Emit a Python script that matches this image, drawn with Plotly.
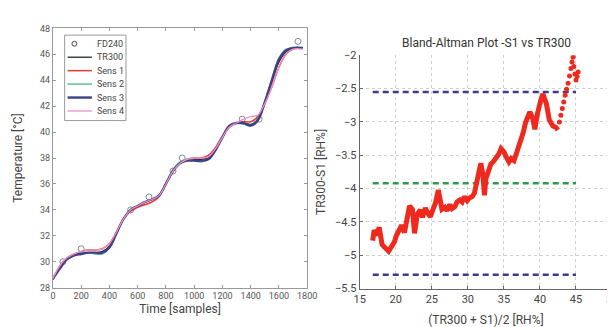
import plotly.graph_objects as go

# ---------------- Left panel data ----------------
time = [0, 50, 100, 150, 200, 250, 300, 350, 400, 450, 500, 550, 600, 650, 700, 750, 800, 850,
        900, 950, 1000, 1050, 1100, 1150, 1200, 1250, 1300, 1350, 1400, 1450, 1500, 1550, 1600,
        1650, 1700, 1770]
tr300 = [28.7, 29.6, 30.2, 30.5, 30.7, 30.7, 30.7, 30.8, 31.2, 32.2, 33.3, 34.0, 34.3, 34.6, 34.8,
         35.1, 36.0, 37.0, 37.6, 37.9, 37.9, 37.9, 38.0, 38.6, 39.6, 40.4, 40.7, 40.7, 40.6, 41.0,
         42.3, 43.9, 45.4, 46.2, 46.5, 46.5]
sens1 = [28.6, 29.7, 30.3, 30.6, 30.8, 30.9, 30.9, 31.0, 31.4, 32.3, 33.3, 33.9, 34.2, 34.4, 34.6,
         35.0, 36.0, 37.0, 37.6, 37.9, 38.0, 38.0, 38.2, 38.8, 39.7, 40.4, 40.7, 40.8, 40.8, 41.2,
         42.2, 43.5, 45.0, 46.0, 46.4, 46.5]
sens2 = [28.7, 29.6, 30.2, 30.5, 30.7, 30.7, 30.6, 30.6, 31.1, 32.2, 33.3, 34.0, 34.3, 34.6, 34.8,
         35.1, 36.1, 37.1, 37.7, 37.9, 37.8, 37.7, 37.9, 38.6, 39.7, 40.5, 40.7, 40.6, 40.5, 41.0,
         42.4, 44.1, 45.7, 46.4, 46.5, 46.5]
sens3 = [28.7, 29.5, 30.2, 30.5, 30.6, 30.7, 30.7, 30.7, 31.1, 32.2, 33.3, 34.0, 34.3, 34.6, 34.8,
         35.1, 36.0, 37.0, 37.6, 37.8, 37.8, 37.8, 37.9, 38.6, 39.6, 40.5, 40.7, 40.7, 40.5, 40.9,
         42.3, 44.0, 45.6, 46.3, 46.5, 46.5]
sens4 = [28.7, 29.7, 30.3, 30.6, 30.8, 30.9, 30.9, 31.0, 31.4, 32.3, 33.3, 34.0, 34.3, 34.6, 34.8,
         35.1, 36.0, 37.0, 37.6, 37.9, 38.0, 38.0, 38.1, 38.7, 39.6, 40.4, 40.7, 41.0, 41.2, 41.3,
         42.2, 43.5, 45.0, 46.0, 46.4, 46.4]
fd240_t = [70, 200, 550, 680, 850, 915, 1340, 1460, 1735]
fd240_v = [30, 31, 34, 35, 37, 38, 41, 41, 47]
legend_names = ["FD240", "TR300", "Sens 1", "Sens 2", "Sens 3", "Sens 4"]

# ---------------- Right panel data ----------------
ba_mean = [16.8, 17.0, 17.3, 17.7, 18.1, 18.6, 19.0, 19.4, 19.8, 20.1, 20.5, 20.8, 21.2, 21.5,
           21.9, 22.3, 22.6, 23.0, 23.4, 23.7, 24.1, 24.5, 24.8, 25.2, 25.5, 25.9, 26.4, 26.8,
           27.1, 27.5, 27.8, 28.2, 28.5, 28.9, 29.2, 29.5, 29.9, 30.2, 30.6, 30.9, 31.4, 31.8,
           32.1, 32.3, 32.5, 32.7, 33.2, 33.5, 33.9, 34.3, 34.6, 35.0, 35.3, 35.7, 36.0, 36.4,
           36.8, 37.3, 37.7, 38.0, 38.3, 38.6, 39.0, 39.3, 39.6, 39.8, 40.1, 40.4, 40.7, 40.9,
           41.3, 41.8, 42.2, 42.5]
ba_diff = [-4.78, -4.62, -4.70, -4.58, -4.84, -4.90, -4.94, -4.87, -4.80, -4.70, -4.62, -4.55,
           -4.66, -4.45, -4.26, -4.31, -4.67, -4.38, -4.32, -4.43, -4.29, -4.38, -4.42, -4.30,
           -4.22, -4.02, -4.31, -4.28, -4.33, -4.24, -4.30, -4.27, -4.20, -4.17, -4.20, -4.12,
           -4.18, -4.14, -4.12, -4.07, -3.83, -3.62, -3.80, -4.10, -3.85, -3.78, -3.63, -3.60,
           -3.54, -3.48, -3.40, -3.45, -3.52, -3.60, -3.55, -3.58, -3.45, -3.30, -3.15, -3.01,
           -2.95, -2.85, -2.95, -3.11, -2.90, -2.77, -2.68, -2.58, -2.65, -2.73, -2.97, -3.06,
           -3.08, -3.12]
ba_mean_tail = [42.7, 42.9, 43.1, 43.3, 43.5, 43.7, 43.9, 44.1, 44.3, 44.45, 44.6, 44.7, 44.85,
                45.0, 45.15, 45.3]
ba_diff_tail = [-3.00, -2.90, -2.80, -2.70, -2.60, -2.51, -2.42, -2.31, -2.20, -2.10, -2.03,
                -2.17, -2.28, -2.37, -2.32, -2.25]
loa_x = [16.8, 45.0]
upper_loa = -2.55
mean_diff = -3.92
lower_loa = -5.29

FONT = "Liberation Sans Narrow, Roboto, Liberation Sans, Arial, sans-serif"
W, H = 615, 327

colors = {"FD240": "#888888", "TR300": "#1e2a28", "Sens 1": "#e8392e", "Sens 2": "#5cbf9f",
          "Sens 3": "#3d3f88", "Sens 4": "#f28dbf"}
widths = {"TR300": 1.3, "Sens 1": 1.5, "Sens 2": 1.5, "Sens 3": 2.4, "Sens 4": 1.3}

fig = go.Figure()

# Left panel traces
fig.add_trace(go.Scatter(x=fd240_t, y=fd240_v, mode="markers", name="FD240",
                         marker=dict(symbol="circle-open", size=6, color=colors["FD240"], line=dict(width=1)),
                         xaxis="x", yaxis="y"))
for name, vals in [("TR300", tr300), ("Sens 1", sens1), ("Sens 2", sens2), ("Sens 3", sens3), ("Sens 4", sens4)]:
    fig.add_trace(go.Scatter(x=time, y=vals, mode="lines", name=name,
                             line=dict(color=colors[name], width=widths[name], shape="spline"),
                             xaxis="x", yaxis="y"))

# Right panel traces
for val, col in [(upper_loa, "#3a3c8c"), (mean_diff, "#2f9a4a"), (lower_loa, "#3a3c8c")]:
    fig.add_trace(go.Scatter(x=loa_x, y=[val, val], mode="lines",
                             line=dict(color=col, width=2.5, dash="6px,4px"), xaxis="x2", yaxis="y2"))
fig.add_trace(go.Scatter(x=ba_mean, y=ba_diff, mode="lines",
                         line=dict(color="#ee2a1f", width=5), xaxis="x2", yaxis="y2"))
fig.add_trace(go.Scatter(x=ba_mean_tail, y=ba_diff_tail, mode="markers",
                         marker=dict(color="#ee2a1f", size=5, symbol="circle", line=dict(width=0)),
                         xaxis="x2", yaxis="y2"))

# Hand-built compact legend for the left panel (paper/pixel layout only)
def px(x):
    return x / W

def py(y):
    return (H - y) / H

shapes = [dict(type="rect", xref="paper", yref="paper", x0=px(52), x1=px(115), y0=py(111), y1=py(22),
               line=dict(color="#999999", width=1), fillcolor="white", layer="above")]
annotations = []
for i, name in enumerate(legend_names):
    yy = 31 + 14 * i
    if name == "FD240":
        shapes.append(dict(type="circle", xref="paper", yref="paper", x0=px(59.5), x1=px(64.5),
                           y0=py(yy + 2.5), y1=py(yy - 2.5), line=dict(color="#444444", width=1),
                           layer="above"))
    else:
        shapes.append(dict(type="line", xref="paper", yref="paper", x0=px(55), x1=px(80), y0=py(yy), y1=py(yy),
                           line=dict(color=colors[name], width=widths[name]), layer="above"))
    annotations.append(dict(text=name, x=px(83), y=py(yy), xref="paper", yref="paper", showarrow=False,
                            xanchor="left", yanchor="middle", font=dict(size=9, color="#444444", family=FONT)))

annotations.append(dict(text="Bland-Altman Plot -S1 vs TR300", x=px(485), y=py(30),
                        xref="paper", yref="paper", showarrow=False, xanchor="center", yanchor="middle",
                        font=dict(size=12, color="#333333", family=FONT)))

fig.update_layout(
    width=W, height=H, margin=dict(l=0, r=0, t=0, b=0),
    paper_bgcolor="white", plot_bgcolor="white",
    font=dict(family=FONT, color="#444444"),
    showlegend=False,
    shapes=shapes, annotations=annotations,
    xaxis=dict(domain=[px(40), px(301)], range=[0, 1800], dtick=200, anchor="y",
               showline=True, linecolor="#999999", mirror="ticks", ticks="inside", ticklen=3,
               tickcolor="#999999", showgrid=False, zeroline=False,
               tickfont=dict(size=9, color="#555555"),
               title=dict(text="Time [samples]", font=dict(size=12, color="#444444"), standoff=4)),
    yaxis=dict(domain=[(H - 285) / H, (H - 15) / H], range=[28, 48], dtick=2, anchor="x",
               showline=True, linecolor="#999999", mirror="ticks", ticks="inside", ticklen=3,
               tickcolor="#999999", showgrid=False, zeroline=False,
               tickfont=dict(size=9, color="#555555"),
               title=dict(text="Temperature [°C]", font=dict(size=12, color="#444444"), standoff=14)),
    xaxis2=dict(domain=[px(355), px(614)], range=[15, 50], dtick=5, anchor="y2",
                showline=True, linecolor="#666666", ticks="inside", ticklen=3, tickcolor="#666666",
                showgrid=True, gridcolor="#cfcfcf", griddash="dot", gridwidth=1, zeroline=False,
                tickfont=dict(size=11, color="#444444"),
                title=dict(text="(TR300 + S1)/2 [RH%]", font=dict(size=12, color="#444444"), standoff=10)),
    yaxis2=dict(domain=[(H - 286) / H, (H - 43) / H], range=[-5.5, -2], dtick=0.5, anchor="x2",
                showline=True, linecolor="#666666", ticks="inside", ticklen=3, tickcolor="#666666",
                showgrid=True, gridcolor="#cfcfcf", griddash="dot", gridwidth=1, zeroline=False,
                tickfont=dict(size=11, color="#444444"),
                title=dict(text="TR300-S1 [RH%]", font=dict(size=12, color="#444444"), standoff=6)),
)

fig.write_html("out.html")
